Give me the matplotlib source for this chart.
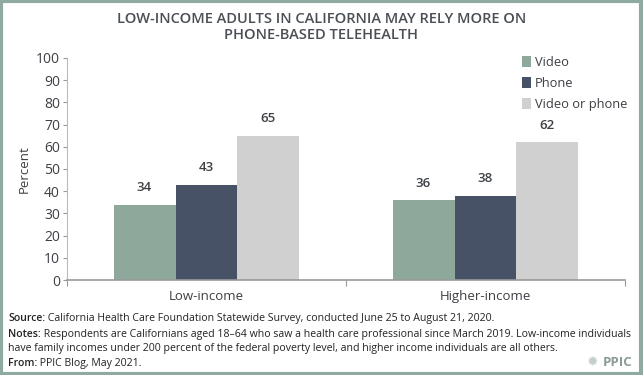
import matplotlib.pyplot as plt
from matplotlib.patches import Rectangle

groups = ['Low-income', 'Higher-income']
series = ['Video', 'Phone', 'Video or phone']
video = [34, 36]
phone = [43, 38]
either = [65, 62]
colors = ['#8fa89c', '#475266', '#d0d0d0']

plt.rcParams['font.family'] = ['Open Sans', 'DejaVu Sans']
text_c = '#3c3f44'

fig = plt.figure(figsize=(6.43, 3.75), dpi=100)
ax = fig.add_axes([67 / 643, 95 / 375, 558 / 643, 222 / 375])

width = 0.222
x = list(range(len(groups)))
for i, (vals, name) in enumerate(zip([video, phone, either], series)):
    pos = [xi + (i - 1) * width for xi in x]
    bars = ax.bar(pos, vals, width=width, color=colors[i], label=name, zorder=2)
    for b, v in zip(bars, vals):
        ax.text(b.get_x() + b.get_width() / 2, v + 4.6, str(v), ha='center', va='bottom',
                fontsize=9.5, fontweight='semibold', color=text_c)

ax.set_xlim(-0.5, 1.5)
ax.set_ylim(0, 100)
ax.set_yticks(range(0, 101, 10))
ax.set_xticks([-0.5, 0.5, 1.5])
ax.set_xticklabels([])
ax.set_xticks(x, minor=True)
ax.set_xticklabels(groups, minor=True, fontsize=9.5, color=text_c)
ax.tick_params(axis='x', which='minor', length=0, pad=7)
ax.tick_params(axis='x', which='major', length=4, color='#999999')
ax.tick_params(axis='y', length=3, color='#999999', labelsize=10, labelcolor=text_c, pad=2)
for s in ['top', 'right']:
    ax.spines[s].set_visible(False)
ax.spines['left'].set_color('#bbbbbb')
ax.spines['bottom'].set_color('#999999')
ax.spines['bottom'].set_linewidth(1.2)
ax.set_ylabel('Percent', fontsize=9.5, color=text_c, labelpad=4)

leg = ax.legend(loc='upper right', bbox_to_anchor=(1.025, 1.06), frameon=False, fontsize=9.3,
                handlelength=0.7, handleheight=0.9, handletextpad=0.3, labelspacing=0.6)
for t in leg.get_texts():
    t.set_color(text_c)

fig.text(0.5, 0.968, 'LOW-INCOME ADULTS IN CALIFORNIA MAY RELY MORE ON\nPHONE-BASED TELEHEALTH',
         ha='center', va='top', fontsize=10.5, fontweight='semibold', color='#4a4f55', linespacing=1.2)

foot = [
    ('Source:', ' California Health Care Foundation Statewide Survey, conducted June 25 to August 21, 2020.'),
    ('Notes:', ' Respondents are Californians aged 18\u201364 who saw a health care professional since March 2019. Low-income individuals'),
    ('', 'have family incomes under 200 percent of the federal poverty level, and higher income individuals are all others.'),
    ('From:', ' PPIC Blog, May 2021.'),
]
y0 = [321, 337, 351, 366]
fig.canvas.draw()
for (head, body), yp in zip(foot, y0):
    yf = 1 - yp / 375
    xs = 8 / 643
    if head:
        t = fig.text(xs, yf, head, fontsize=7.6, fontweight='semibold', color='#222222', va='baseline')
        xs = t.get_window_extent(renderer=fig.canvas.get_renderer()).x1 / fig.bbox.width
    fig.text(xs, yf, body, fontsize=7.6, color='#222222', va='baseline')

fig.text(632 / 643, 1 - 366 / 375, 'PPIC', ha='right', va='baseline', fontsize=9.5,
         fontweight='bold', color='#8a9a94')
fig.text(598 / 643, 1 - 366 / 375, '\u2739', ha='right', va='baseline', fontsize=10,
         color='#c5cfca', family=['DejaVu Sans'])

fig.patches.append(Rectangle((0.0015, 0.0025), 0.995, 0.994, transform=fig.transFigure,
                             fill=False, edgecolor='#8fab9f', linewidth=3))

fig.savefig('out.png', dpi=100)
